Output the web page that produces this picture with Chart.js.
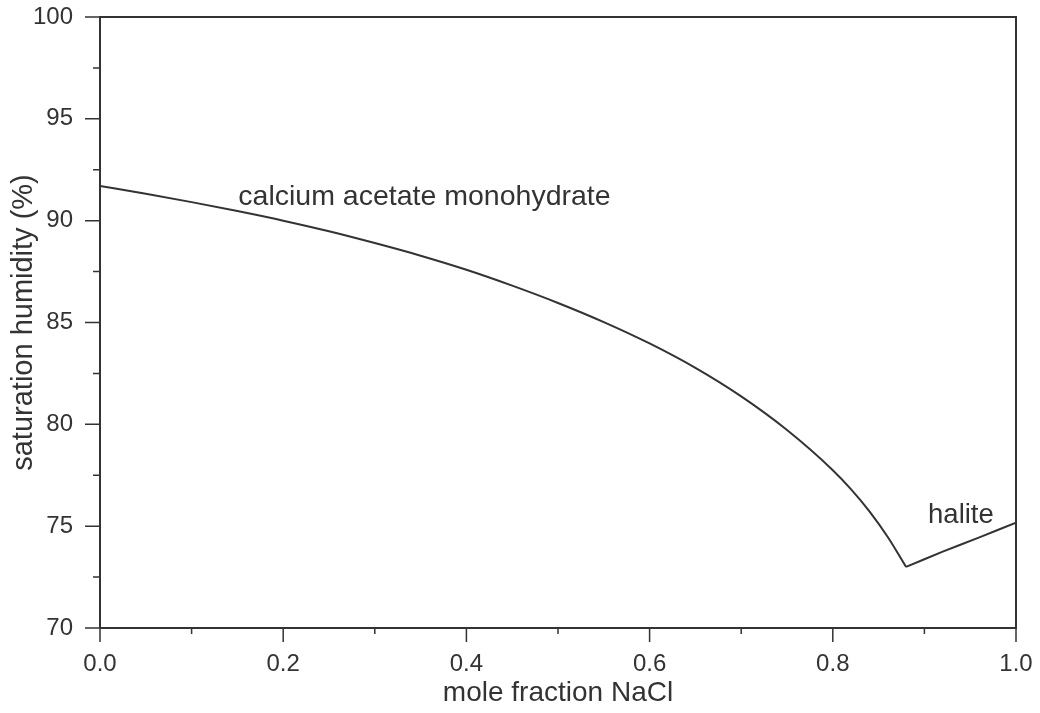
<!DOCTYPE html>
<html>
<head>
<meta charset="utf-8">
<script src="https://cdn.jsdelivr.net/npm/chart.js@4/dist/chart.umd.min.js"></script>
<style>
  html, body { margin: 0; padding: 0; background: #fff; }
  #wrap { width: 1040px; height: 713px; }
</style>
</head>
<body>
<div id="wrap"><canvas id="chart" width="1040" height="713"></canvas></div>
<script>
// calcium acetate monohydrate branch
const acetateX = [0.00, 0.05, 0.10, 0.15, 0.20, 0.25, 0.30, 0.35, 0.40, 0.45, 0.50, 0.55, 0.60, 0.65, 0.70, 0.75, 0.80, 0.82, 0.84, 0.86, 0.88];
const acetateY = [91.70, 91.32, 90.91, 90.47, 90.00, 89.48, 88.90, 88.28, 87.59, 86.81, 85.96, 85.02, 83.97, 82.77, 81.37, 79.72, 77.75, 76.81, 75.73, 74.47, 73.00];

// halite branch
const haliteX = [0.88, 0.92, 0.96, 1.00];
const haliteY = [73.00, 73.75, 74.45, 75.17];

const xTicks = [0.0, 0.2, 0.4, 0.6, 0.8, 1.0];
const xMinor = [0.1, 0.3, 0.5, 0.7, 0.9];
const yTicks = [70, 75, 80, 85, 90, 95, 100];
const yMinor = [72.5, 77.5, 82.5, 87.5, 92.5, 97.5];

const labels = [
  { text: "calcium acetate monohydrate", x: 0.151, y: 90.77, size: 28.5 },
  { text: "halite", x: 0.904, y: 75.14, size: 27.5 }
];

const ink = "#333";
const fontFamily = "'Liberation Sans', Arial, Helvetica, sans-serif";

const toPoints = (xs, ys) => xs.map((x, i) => ({ x: x, y: ys[i] }));

// frame, tick marks and curve labels
const framePlugin = {
  id: "frame",
  afterDraw(chart) {
    const ctx = chart.ctx;
    const a = chart.chartArea;
    const xs = chart.scales.x;
    const ys = chart.scales.y;
    ctx.save();
    ctx.strokeStyle = ink;
    ctx.lineWidth = 2;
    ctx.beginPath();
    ctx.moveTo(a.left, a.top);
    ctx.lineTo(a.right, a.top);
    ctx.lineTo(a.right, a.bottom);
    ctx.stroke();

    ctx.lineWidth = 1.5;
    ctx.beginPath();
    xTicks.forEach(v => {
      const p = xs.getPixelForValue(v);
      ctx.moveTo(p, a.bottom);
      ctx.lineTo(p, a.bottom + 14);
    });
    xMinor.forEach(v => {
      const p = xs.getPixelForValue(v);
      ctx.moveTo(p, a.bottom);
      ctx.lineTo(p, a.bottom + 6);
    });
    yTicks.forEach(v => {
      const p = ys.getPixelForValue(v);
      ctx.moveTo(a.left, p);
      ctx.lineTo(a.left - 15, p);
    });
    yMinor.forEach(v => {
      const p = ys.getPixelForValue(v);
      ctx.moveTo(a.left, p);
      ctx.lineTo(a.left - 7, p);
    });
    ctx.stroke();

    ctx.fillStyle = ink;
    ctx.textAlign = "left";
    ctx.textBaseline = "alphabetic";
    labels.forEach(l => {
      ctx.font = l.size + "px " + fontFamily;
      ctx.fillText(l.text, xs.getPixelForValue(l.x), ys.getPixelForValue(l.y));
    });
    ctx.restore();
  }
};

// fixed axis sizes, no extra room for overhanging tick labels
const fixSize = (w, h) => s => {
  if (w) s.width = w;
  if (h) s.height = h;
  s.paddingTop = 0;
  s.paddingBottom = 0;
  s.paddingLeft = 0;
  s.paddingRight = 0;
};

new Chart(document.getElementById("chart"), {
  type: "line",
  data: {
    datasets: [
      {
        data: toPoints(acetateX, acetateY),
        borderColor: ink,
        borderWidth: 2,
        pointRadius: 0,
        cubicInterpolationMode: "monotone",
        fill: false
      },
      {
        data: toPoints(haliteX, haliteY),
        borderColor: ink,
        borderWidth: 2,
        pointRadius: 0,
        tension: 0.2,
        fill: false
      }
    ]
  },
  plugins: [framePlugin],
  options: {
    responsive: false,
    animation: false,
    layout: { padding: { top: 17, right: 24, left: 0, bottom: 0 } },
    plugins: {
      legend: { display: false },
      tooltip: { enabled: false }
    },
    scales: {
      x: {
        type: "linear",
        min: 0,
        max: 1,
        afterFit: fixSize(0, 85),
        afterBuildTicks: s => { s.ticks = xTicks.map(v => ({ value: v })); },
        grid: { display: false, drawTicks: false },
        border: { display: true, color: ink, width: 2 },
        ticks: {
          padding: 22,
          color: ink,
          font: { family: fontFamily, size: 24 },
          callback: v => v.toFixed(1),
          maxRotation: 0
        },
        title: {
          display: true,
          text: "mole fraction NaCl",
          color: ink,
          font: { family: fontFamily, size: 28 },
          padding: { top: 0, bottom: 3 }
        }
      },
      y: {
        type: "linear",
        min: 70,
        max: 100,
        afterFit: fixSize(100, 0),
        afterBuildTicks: s => { s.ticks = yTicks.map(v => ({ value: v })); },
        grid: { display: false, drawTicks: false },
        border: { display: true, color: ink, width: 2 },
        ticks: {
          padding: 27,
          color: ink,
          font: { family: fontFamily, size: 24 }
        },
        title: {
          display: true,
          text: "saturation humidity (%)",
          color: ink,
          font: { family: fontFamily, size: 29 },
          padding: { top: 7, bottom: 0 }
        }
      }
    }
  }
});
</script>
</body>
</html>
